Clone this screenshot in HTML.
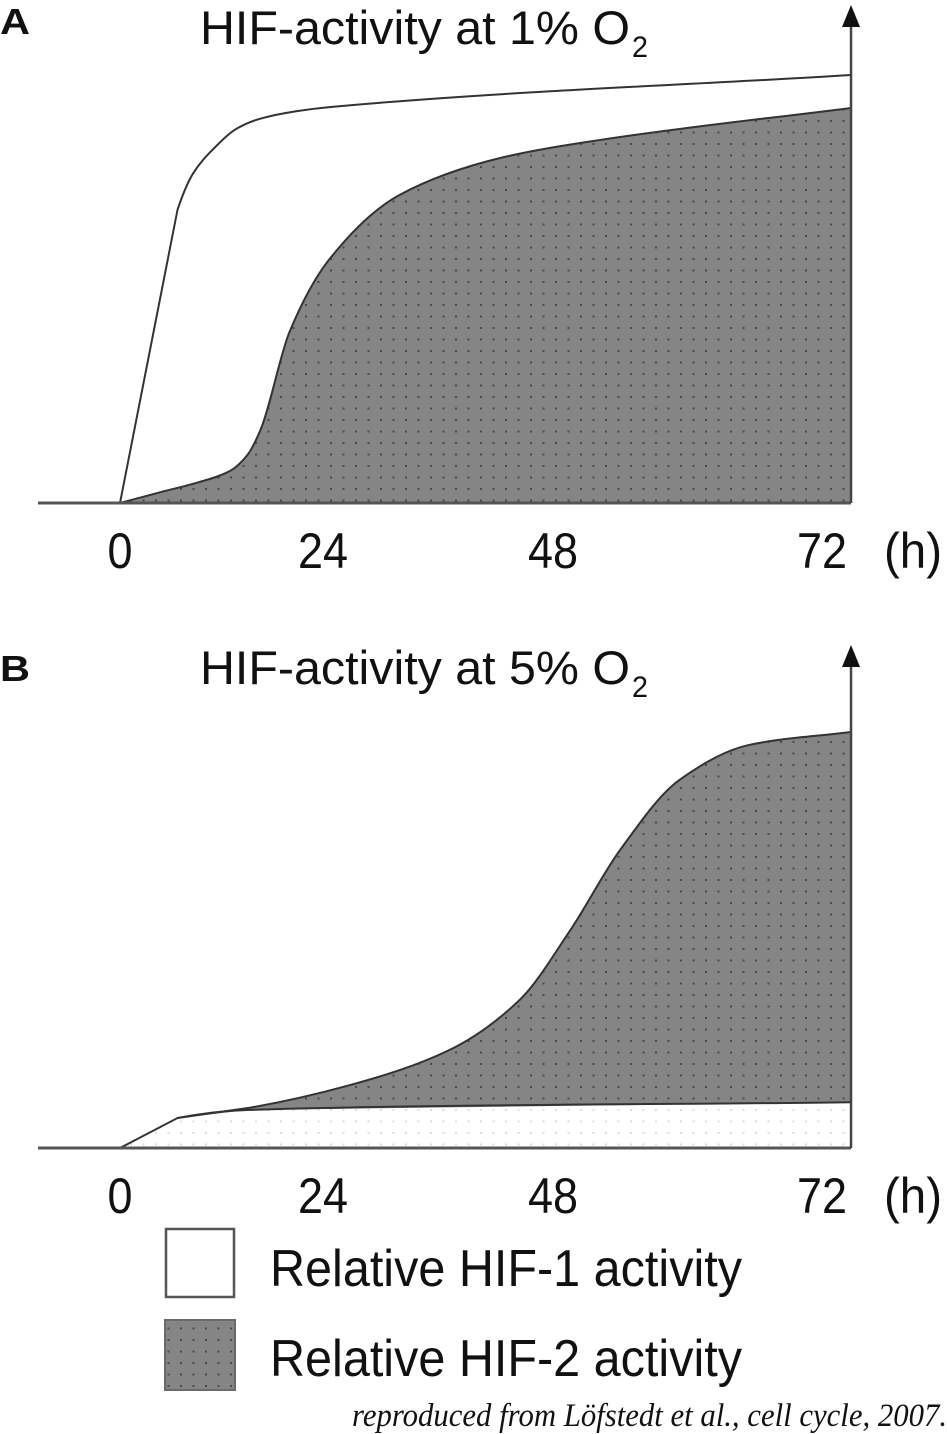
<!DOCTYPE html>
<html><head><meta charset="utf-8"><style>
html,body{margin:0;padding:0;background:#fff;width:947px;height:1434px;overflow:hidden}
svg text{font-family:"Liberation Sans",sans-serif;fill:#111}
</style></head><body>
<svg id="chart" width="947" height="1434" viewBox="0 0 947 1434" xmlns="http://www.w3.org/2000/svg">
<defs>
<pattern id="dots" width="12.5" height="11.5" patternUnits="userSpaceOnUse"><rect width="12.5" height="11.5" fill="#858585"/><rect x="5" y="5" width="2" height="2" fill="#4a4a4a"/></pattern>
<pattern id="ldots" width="12.5" height="11.5" patternUnits="userSpaceOnUse"><rect width="12.5" height="11.5" fill="#fff"/><rect x="5" y="5" width="2" height="2" fill="#ddd"/></pattern>
</defs>
<g id="panelA"></g>
<g id="panelB"></g>
<text x="0" y="34" font-size="36" font-weight="bold" textLength="30" lengthAdjust="spacingAndGlyphs">A</text>
<text x="0" y="681" font-size="36" font-weight="bold" textLength="30" lengthAdjust="spacingAndGlyphs">B</text>
<text x="200" y="44" font-size="47" textLength="430" lengthAdjust="spacingAndGlyphs">HIF-activity at 1% O</text>
<text x="632" y="57" font-size="30" textLength="16" lengthAdjust="spacingAndGlyphs">2</text>
<text x="200" y="684" font-size="47" textLength="430" lengthAdjust="spacingAndGlyphs">HIF-activity at 5% O</text>
<text x="632" y="697" font-size="30" textLength="16" lengthAdjust="spacingAndGlyphs">2</text>
<rect x="166" y="1229" width="68" height="68" fill="#fff" stroke="#555" stroke-width="2.5"/>
<text x="270" y="1286" font-size="52" textLength="472" lengthAdjust="spacingAndGlyphs">Relative HIF-1 activity</text>
<rect x="165" y="1320" width="70" height="70" fill="url(#dots)" stroke="#6a6a6a" stroke-width="2"/>
<text x="270" y="1376" font-size="52" textLength="472" lengthAdjust="spacingAndGlyphs">Relative HIF-2 activity</text>
<text x="352" y="1426" font-size="33" font-style="italic" style="font-family:'Liberation Serif',serif" textLength="595" lengthAdjust="spacingAndGlyphs">reproduced from Löfstedt et al., cell cycle, 2007.</text>
</svg>
<script>
// Hours vs relative activity (0-100)
const aHif1H=[0,5.9,7.5,9.7,12,14.4,18,21.5,75];
const aHif1V=[0,68.5,77,83,87.5,89.8,91.5,92.5,100];
const aHif2H=[0,4.1,8,11.3,13,14.4,17.4,21.5,28.7,39,49.2,75];
const aHif2V=[0,2.5,4.8,7.5,11,17,40,57,72,80.6,84.8,92.3];
const bHif1H=[0,5.9,13.3,75];
const bHif1V=[0,7,8.9,10.7];
const bHif2H=[5.9,13.3,23.6,33.8,41,46.2,51.3,57.4,64.6,75];
const bHif2V=[7,9.4,14.7,22.9,34.6,50.9,69.6,86,94.2,97.2];
const tickHours=[0,24,48,72];
const tickLabelX=[120,323,553,822];

const NS="http://www.w3.org/2000/svg";
const xS=h=>120+h*9.747;
function mk(parent,tag,attrs){const e=document.createElementNS(NS,tag);for(const k in attrs)e.setAttribute(k,attrs[k]);parent.appendChild(e);return e;}
function pts(H,V,yS){return H.map((h,i)=>[xS(h),yS(V[i])]);}
// monotone cubic (Fritsch-Carlson)
function mono(p,linearFirst){
  const n=p.length,dx=[],sl=[],m=[];
  for(let i=0;i<n-1;i++){dx[i]=p[i+1][0]-p[i][0];sl[i]=(p[i+1][1]-p[i][1])/dx[i];}
  m[0]=sl[0];m[n-1]=sl[n-2];
  for(let i=1;i<n-1;i++){m[i]=(sl[i-1]*sl[i]<=0)?0:(3*(dx[i-1]+dx[i]))/((2*dx[i]+dx[i-1])/sl[i-1]+(dx[i]+2*dx[i-1])/sl[i]);}
  let d="M"+p[0][0]+","+p[0][1];
  for(let i=0;i<n-1;i++){
    const a=p[i],b=p[i+1];
    if(linearFirst&&i===0){d+=" L"+b[0]+","+b[1];continue;}
    const h=dx[i]/3;
    d+=" C"+(a[0]+h)+","+(a[1]+m[i]*h)+" "+(b[0]-h)+","+(b[1]-m[i+1]*h)+" "+b[0]+","+b[1];
  }
  return d;
}
function panel(g,base,top,h1H,h1V,h2H,h2V,isB){
  const yS=v=>base-v*4.28;
  const p1=pts(h1H,h1V,yS),p2=pts(h2H,h2V,yS);
  const c1=mono(p1,true),c2=mono(p2,isB);
  const xe=xS(75);
  let a1=mk(g,"path",{d:c1+" L"+xe+","+base+" Z",fill:isB?"url(#ldots)":"#fff"});
  
  
  let d2=c2+" L"+xe+","+base+" L"+xS(0)+","+base+" Z";
  if(isB){
    const r=p1.slice(1).reverse();
    d2=c2+" L"+r.map(q=>q[0]+","+q[1]).join(" L")+" Z";
  }
  let a2=mk(g,"path",{d:d2,fill:"url(#dots)"});
  
  
  let l1=mk(g,"path",{d:c1,fill:"none",stroke:"#333","stroke-width":2});
  
  
  let l2=mk(g,"path",{d:c2,fill:"none",stroke:"#333","stroke-width":2});
  
  
  let xa=mk(g,"line",{x1:38,y1:base,x2:xe,y2:base,stroke:"#555","stroke-width":3});
  
  
  let ya=mk(g,"line",{x1:xe,y1:base,x2:xe,y2:top+18,stroke:"#444","stroke-width":2.5});
  
  
  let ar=mk(g,"polygon",{points:(xe-9)+","+(top+22)+" "+(xe+9)+","+(top+22)+" "+xe+","+top,fill:"#111"});
  
  
  tickHours.forEach((t,i)=>{
    let tx=mk(g,"text",{x:tickLabelX[i],y:base+65,"font-size":50,"text-anchor":"middle",textLength:String(t).length*25,lengthAdjust:"spacingAndGlyphs"});
    tx.textContent=String(t);
    
    
  });
  let u=mk(g,"text",{x:884,y:base+65,"font-size":50,textLength:58,lengthAdjust:"spacingAndGlyphs"});
  u.textContent="(h)";
  
  
}
panel(document.getElementById("panelA"),503,5,aHif1H,aHif1V,aHif2H,aHif2V,false);
panel(document.getElementById("panelB"),1148,645,bHif1H,bHif1V,bHif2H,bHif2V,true);
</script>
</body></html>
